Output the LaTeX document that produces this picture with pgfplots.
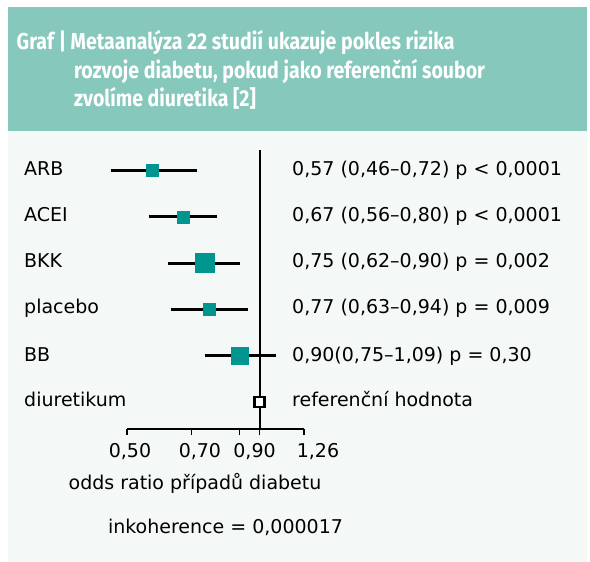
\documentclass[border=0pt]{standalone}
\usepackage{fontspec}
\setmainfont{DejaVu Sans}
\newfontfamily\headfont[FakeStretch=0.85]{Fira Sans}
\usepackage{pgfplots}
\pgfplotsset{compat=1.18}
\definecolor{hdr}{HTML}{86C8BB}
\definecolor{pnl}{HTML}{F4F8F7}
\definecolor{sq}{HTML}{00958E}
\newcommand\bt{\fontsize{19}{23}\selectfont}
\begin{document}
\begin{tikzpicture}[x=1pt,y=1pt]
\fill[white] (0,0) rectangle (590,562);
\fill[pnl] (8,0) rectangle (587,555);
\fill[hdr] (8,431) rectangle (587,555);
\begin{axis}[
  at={(127pt,133pt)}, anchor=south west,
  scale only axis, width=177pt, height=279.4pt,
  xmode=log, xmin=0.5, xmax=1.26, ymin=0.417, ymax=6.45,
  axis x line*=bottom, axis y line=none, clip=false,
  axis line style={-, line width=1.5pt, black},
  xtick={0.5,0.7,0.9,1,1.26},
  xticklabels={{\hspace*{6pt}0,50},{\hspace*{17pt}0,70},{\hspace*{30pt}0,90},{},{\hspace*{28pt}1,26}},
  minor xtick={},
  ytick=\empty,
  tick align=outside, major tick length=6pt,
  every tick/.style={line width=1.5pt, black},
  xticklabel style={font=\bt, text=black, yshift=-5pt},
]
% reference line
\addplot[black, line width=2pt] coordinates {(1,0.417) (1,6.45)};
% confidence intervals
\addplot[black, line width=3pt] coordinates {(0.46,6) (0.72,6)};
\addplot[black, line width=3pt] coordinates {(0.56,5) (0.80,5)};
\addplot[black, line width=3pt] coordinates {(0.62,4) (0.90,4)};
\addplot[black, line width=3pt] coordinates {(0.63,3) (0.94,3)};
\addplot[black, line width=3pt] coordinates {(0.75,2) (1.09,2)};
% point estimates
\addplot[only marks, mark=square*, color=sq, mark size=6pt] coordinates {(0.57,6) (0.67,5) (0.77,3)};
\addplot[only marks, mark=square*, color=sq, mark size=9.5pt] coordinates {(0.75,4)};
\addplot[only marks, mark=square*, color=sq, mark size=8.5pt] coordinates {(0.90,2)};
\addplot[only marks, mark=square*, mark options={draw=black, fill=white, line width=2.5pt}, mark size=5pt] coordinates {(1,1)};
\end{axis}
% header
\begin{scope}[every node/.style={anchor=base west, inner sep=0, text=white, font=\headfont\bfseries\fontsize{23}{28}\selectfont}]
\node at (16.5,512) {Graf | Metaanalýza 22 studií ukazuje pokles rizika};
\node at (74,483.7) {rozvoje diabetu, pokud jako referenční soubor};
\node at (74,455.3) {zvolíme diuretika [2]};
\end{scope}
% row labels
\begin{scope}[every node/.style={anchor=base west, inner sep=0, font=\bt, text=black}]
\node at (24,386) {ARB};
\node at (24,340) {ACEI};
\node at (24,294) {BKK};
\node at (24,248) {placebo};
\node at (24,200.5) {BB};
\node at (24,155.7) {diuretikum};
\node at (292,386) {0,57 (0,46–0,72) p < 0,0001};
\node at (292,340.2) {0,67 (0,56–0,80) p < 0,0001};
\node at (292,294.2) {0,75 (0,62–0,90) p = 0,002};
\node at (292,248.2) {0,77 (0,63–0,94) p = 0,009};
\node at (292,200.5) {0,90(0,75–1,09) p = 0,30};
\node at (292,155.7) {referenční hodnota};
\end{scope}
\node[anchor=base, inner sep=0, font=\bt] at (195,72) {odds ratio případů diabetu};
\node[anchor=base, inner sep=0, font=\bt] at (225.5,28) {inkoherence = 0,000017};
\end{tikzpicture}
\end{document}
